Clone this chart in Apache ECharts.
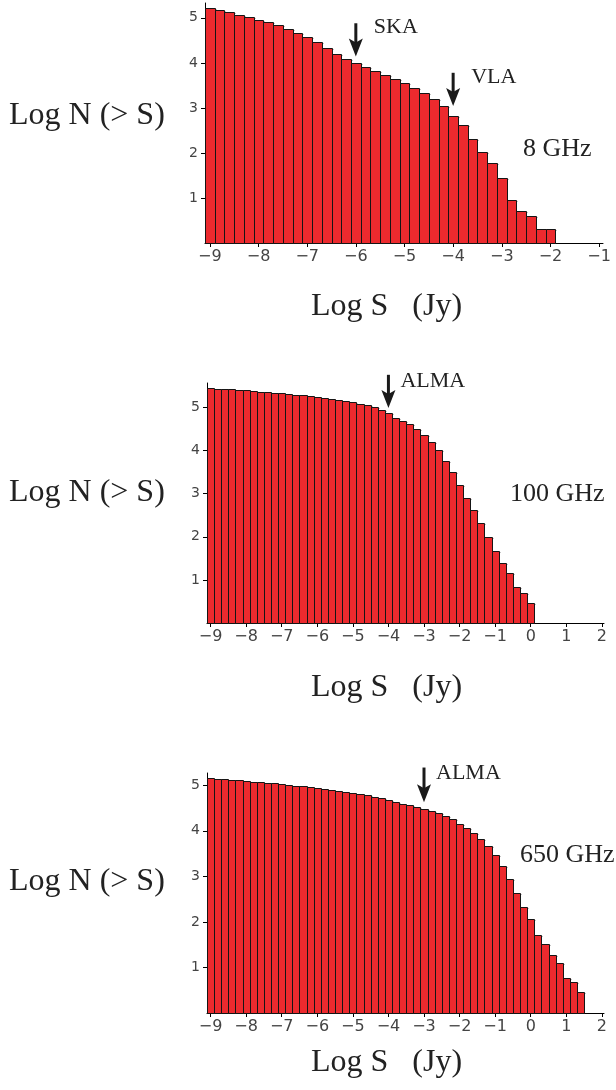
<!DOCTYPE html>
<html><head><meta charset="utf-8">
<script src="https://cdn.jsdelivr.net/npm/echarts@6/dist/echarts.min.js"></script>
<style>html,body{margin:0;padding:0;background:#fff}#c{width:616px;height:1090px}</style>
</head><body><div id="c"></div>
<script>
// Bin centres of Log S (Jy), bin width 0.2
const logS = [-9,-8.8,-8.6,-8.4,-8.2,-8,-7.8,-7.6,-7.4,-7.2,-7,-6.8,-6.6,-6.4,-6.2,-6,-5.8,-5.6,-5.4,-5.2,
  -5,-4.8,-4.6,-4.4,-4.2,-4,-3.8,-3.6,-3.4,-3.2,-3,-2.8,-2.6,-2.4,-2.2,-2,-1.8,-1.6,-1.4,-1.2,
  -1,-0.8,-0.6,-0.4,-0.2,0,0.2,0.4,0.6,0.8,1,1.2,1.4];
// Log N(>S) per panel
const logN_8GHz = [5.22,5.17,5.13,5.07,5.02,4.96,4.90,4.84,4.76,4.67,4.58,4.47,4.33,4.20,4.09,4.00,3.91,3.82,3.73,3.64,
  3.56,3.45,3.33,3.20,3.04,2.83,2.61,2.32,2.01,1.78,1.44,0.96,0.70,0.60,0.30,0.30];
const logN_100GHz = [5.45,5.44,5.43,5.42,5.41,5.40,5.38,5.37,5.36,5.34,5.33,5.31,5.30,5.28,5.27,5.24,5.22,5.20,5.17,5.15,
  5.12,5.09,5.06,5.02,4.95,4.87,4.76,4.69,4.61,4.50,4.37,4.21,4.01,3.77,3.50,3.21,2.91,2.63,2.32,2.00,
  1.66,1.40,1.17,0.84,0.69,0.46];
const logN_650GHz = [5.15,5.14,5.13,5.12,5.11,5.09,5.08,5.07,5.05,5.04,5.02,5.01,4.99,4.98,4.96,4.94,4.92,4.90,4.88,4.86,
  4.83,4.80,4.78,4.75,4.72,4.67,4.63,4.59,4.57,4.52,4.48,4.44,4.39,4.33,4.25,4.16,4.06,3.95,3.83,3.67,
  3.48,3.23,2.94,2.63,2.33,2.06,1.72,1.52,1.27,1.10,0.77,0.68,0.47];
// Tick labels
const xTicks8 = [-9,-8,-7,-6,-5,-4,-3,-2,-1];
const xTicksHi = [-9,-8,-7,-6,-5,-4,-3,-2,-1,0,1,2];
const yTicks = [1,2,3,4,5];
// Texts
const panelFreq = ['8 GHz','100 GHz','650 GHz'];
const yTitle = 'Log N (> S)';
const xTitle = 'Log S   (Jy)';
// Instrument arrows: name, Log S, arrow tail and tip in Log N
const arrows8_name = ['SKA','VLA'];
const arrows8_x = [-6,-4];
const arrows8_tail = [4.88,3.78];
const arrows8_tip = [4.14,3.04];
const arrows100_name = ['ALMA'];
const arrows100_x = [-4];
const arrows100_tail = [5.76];
const arrows100_tip = [4.99];
const arrows650_name = ['ALMA'];
const arrows650_x = [-3];
const arrows650_tail = [5.39];
const arrows650_tip = [4.63];

const BIN = 0.2;
const SERIF = '"Liberation Serif","Times New Roman",serif';

function barData(vals){ return vals.map((v,i)=>[logS[i], v]); }
function arrowData(names, xs, tails, tips){ return names.map((n,i)=>[xs[i], tails[i], tips[i], n]); }

function barRender(params, api){
  const x = api.value(0), y = api.value(1);
  const a = api.coord([x - BIN/2, y]);
  const b = api.coord([x + BIN/2, 0]);
  const x0 = Math.round(a[0]) + 0.5, x1 = Math.round(b[0]) + 0.5;
  const y0 = Math.round(a[1]) + 0.5, y1 = Math.round(b[1]) + 0.5;
  return {type:'group', children:[
    {type:'line', shape:{x1:x0+1, y1:y0+1, x2:x1+1, y2:y0+1}, style:{stroke:'#8a8a8a', lineWidth:1}},
    {type:'rect', shape:{x:x0, y:y0, width:x1-x0, height:y1-y0},
     style:{fill:'#ec2a2e', stroke:'#151515', lineWidth:1}}
  ]};
}
function arrowRender(labelDx, labelDy){
  return function(params, api){
    const x = api.value(0);
    const t = api.coord([x, api.value(1)]);
    const p = api.coord([x, api.value(2)]);
    const name = api.value(3);
    return {type:'group', children:[
      {type:'line', shape:{x1:t[0], y1:t[1], x2:p[0], y2:p[1]-10}, style:{stroke:'#1a1a1a', lineWidth:3}},
      {type:'polygon', shape:{points:[[p[0]-7,p[1]-18],[p[0],p[1]-14],[p[0]+7,p[1]-18],[p[0],p[1]]]}, style:{fill:'#1a1a1a'}},
      {type:'text', x:t[0]+labelDx, y:t[1]+labelDy, style:{text:name, font:'22px '+SERIF, fill:'#222', verticalAlign:'middle', align:'left'}}
    ]};
  };
}

function xAxisCfg(gi, max, ticks){
  return {type:'value', gridIndex:gi, min:-9.1, max:max,
    axisLine:{show:true, onZero:false, lineStyle:{color:'#000', width:1}},
    axisTick:{show:true, customValues:ticks, length:4, lineStyle:{color:'#000', width:1}},
    axisLabel:{show:true, customValues:ticks, formatter:v=>String(v).replace('-','\u2212'),
      fontFamily:'DejaVu Sans', fontSize:16, color:'#444', margin:6},
    splitLine:{show:false}};
}
function yAxisCfg(gi, max){
  return {type:'value', gridIndex:gi, min:0, max:max,
    axisLine:{show:true, onZero:false, lineStyle:{color:'#000', width:1}},
    axisTick:{show:true, customValues:yTicks, length:4, lineStyle:{color:'#000', width:1}},
    axisLabel:{show:true, customValues:yTicks, fontFamily:'DejaVu Sans', fontSize:14, color:'#444', margin:7},
    splitLine:{show:false}};
}

const chart = echarts.init(document.getElementById('c'), null, {renderer:'canvas'});
chart.setOption({
  animation:false,
  backgroundColor:'#fff',
  grid:[
    {left:205, top:3, width:398, height:240},
    {left:207, top:383, width:397, height:240},
    {left:207, top:773, width:397, height:240}
  ],
  xAxis:[xAxisCfg(0,-0.92,xTicks8), xAxisCfg(1,2.06,xTicksHi), xAxisCfg(2,2.06,xTicksHi)],
  yAxis:[yAxisCfg(0,5.33), yAxisCfg(1,5.57), yAxisCfg(2,5.27)],
  series:[
    {type:'custom', xAxisIndex:0, yAxisIndex:0, data:barData(logN_8GHz), renderItem:barRender, clip:false},
    {type:'custom', xAxisIndex:1, yAxisIndex:1, data:barData(logN_100GHz), renderItem:barRender, clip:false},
    {type:'custom', xAxisIndex:2, yAxisIndex:2, data:barData(logN_650GHz), renderItem:barRender, clip:false},
    {type:'custom', xAxisIndex:0, yAxisIndex:0, data:arrowData(arrows8_name,arrows8_x,arrows8_tail,arrows8_tip), renderItem:arrowRender(18,4), clip:false, z:5},
    {type:'custom', xAxisIndex:1, yAxisIndex:1, data:arrowData(arrows100_name,arrows100_x,arrows100_tail,arrows100_tip), renderItem:arrowRender(12,6), clip:false, z:5},
    {type:'custom', xAxisIndex:2, yAxisIndex:2, data:arrowData(arrows650_name,arrows650_x,arrows650_tail,arrows650_tip), renderItem:arrowRender(12,6), clip:false, z:5}
  ],
  graphic:[
    {type:'text', left:9, top:100, style:{text:yTitle, font:'32px '+SERIF, fill:'#222'}},
    {type:'text', left:9, top:477, style:{text:yTitle, font:'32px '+SERIF, fill:'#222'}},
    {type:'text', left:9, top:866, style:{text:yTitle, font:'32px '+SERIF, fill:'#222'}},
    {type:'text', left:311, top:291, style:{text:xTitle, font:'32px '+SERIF, fill:'#222'}},
    {type:'text', left:311, top:672, style:{text:xTitle, font:'32px '+SERIF, fill:'#222'}},
    {type:'text', left:311, top:1047, style:{text:xTitle, font:'32px '+SERIF, fill:'#222'}},
    {type:'text', left:523, top:136, style:{text:panelFreq[0], font:'26px '+SERIF, fill:'#222'}},
    {type:'text', left:510, top:481, style:{text:panelFreq[1], font:'26px '+SERIF, fill:'#222'}},
    {type:'text', left:520, top:842, style:{text:panelFreq[2], font:'26px '+SERIF, fill:'#222'}}
  ]
});
</script>
</body></html>
